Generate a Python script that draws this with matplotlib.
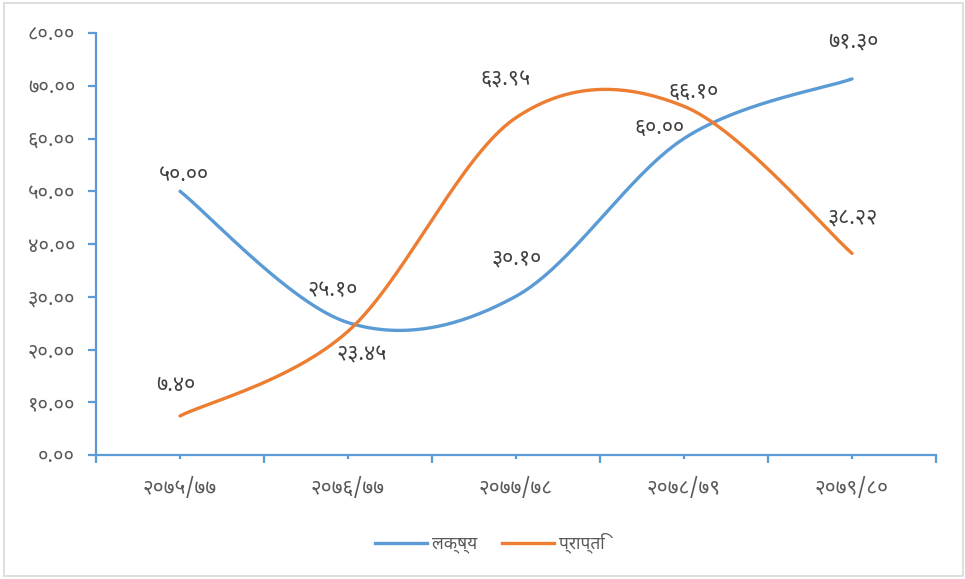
import matplotlib
matplotlib.use("Agg")
import numpy as np
import matplotlib.pyplot as plt
from matplotlib import font_manager
from matplotlib.patches import Rectangle
from matplotlib.lines import Line2D

# data (लक्ष्य = target, प्राप्ति = achievement)
years = ['२०७५/७७', '२०७६/७७', '२०७७/७८', '२०७८/७९', '२०७९/८०']
target = [50.00, 25.10, 30.10, 60.00, 71.30]
achieved = [7.40, 23.45, 63.95, 66.10, 38.22]
names = ['लक्ष्य', 'प्राप्ति']

# pick a font with Devanagari glyphs
have = {f.name for f in font_manager.fontManager.ttflist}
dev = 'DejaVu Sans'
for cand in ['Noto Sans Devanagari', 'Noto Sans Devanagari UI', 'Mukta', 'Hind', 'Poppins']:
    if cand in have:
        dev = cand
        break
plt.rcParams['font.family'] = [dev, 'DejaVu Sans']

digits = str.maketrans('0123456789', '०१२३४५६७८९')
def dev_num(v):
    return ('%.2f' % v).translate(digits)

def smooth(ys, n=60):
    # excel style bezier smoothing through the points
    pts = np.column_stack([np.arange(len(ys)), ys]).astype(float)
    out = []
    for i in range(len(pts) - 1):
        p0 = pts[i]
        p3 = pts[i + 1]
        pm = pts[i - 1] if i > 0 else pts[i]
        pn = pts[i + 2] if i + 2 < len(pts) else pts[i + 1]
        c1 = p0 + (p3 - pm) / 6
        c2 = p3 - (pn - p0) / 6
        t = np.linspace(0, 1, n)[:, None]
        seg = (1-t)**3*p0 + 3*(1-t)**2*t*c1 + 3*(1-t)*t**2*c2 + t**3*p3
        out.append(seg if i == 0 else seg[1:])
    out = np.vstack(out)
    return out[:, 0], out[:, 1]

blue = '#5B9BD5'
orange = '#ED7D31'

fig = plt.figure(figsize=(9.65, 5.79), dpi=100)
ax = fig.add_axes([96/965, 1 - 455/579, 840/965, 422/579])

for ys, c in [(target, blue), (achieved, orange)]:
    sx, sy = smooth(ys)
    ax.plot(sx, sy, color=c, lw=2.4, solid_capstyle='round')

# label offsets in pixels
off_t = [(4, 16), (-15, 32), (1, 37), (-25, 10), (1, 37)]
off_a = [(-4, 30), (14, -24), (-11, 38), (9, 14), (1, 35)]
for ys, offs in [(target, off_t), (achieved, off_a)]:
    for i, v in enumerate(ys):
        ax.annotate(dev_num(v), (i, v), xytext=offs[i], textcoords='offset pixels',
                    ha='center', va='center', fontsize=15.5, color='#404040')

ax.set_xlim(-0.5, 4.5)
ax.set_ylim(0, 80)
ax.set_yticks(np.arange(0, 81, 10))
ax.set_yticklabels([dev_num(v) for v in np.arange(0, 81, 10)])
ax.set_xticks(range(len(years)))
ax.set_xticklabels(years)
ax.set_xticks(np.arange(-0.5, 4.6, 1), minor=True)

for s in ['top', 'right']:
    ax.spines[s].set_visible(False)
for s in ['left', 'bottom']:
    ax.spines[s].set_color(blue)
    ax.spines[s].set_linewidth(1.6)
ax.tick_params(axis='y', direction='out', length=6, width=1.6, color=blue,
               labelsize=14.5, labelcolor='#595959', pad=9)
ax.tick_params(axis='x', which='major', direction='out', length=3, width=1.6, color=blue,
               labelsize=15, labelcolor='#595959', pad=13)
ax.tick_params(axis='x', which='minor', direction='out', length=6, width=1.6, color=blue)

handles = [Line2D([], [], color=blue, lw=2.4), Line2D([], [], color=orange, lw=2.4)]
leg = fig.legend(handles, names, loc='center', bbox_to_anchor=(490/965, 1 - 543/579),
                 ncol=2, frameon=False, fontsize=12.5, handlelength=3.0, handletextpad=0.3,
                 columnspacing=1.4)
for t in leg.get_texts():
    t.set_color('#595959')
    t.set_fontweight('bold')

fig.patches.append(Rectangle((4/965, 3/579), 959/965, 573/579, transform=fig.transFigure,
                             fill=False, edgecolor='#D9D9D9', lw=1.2))
fig.savefig('out.png', dpi=100)
